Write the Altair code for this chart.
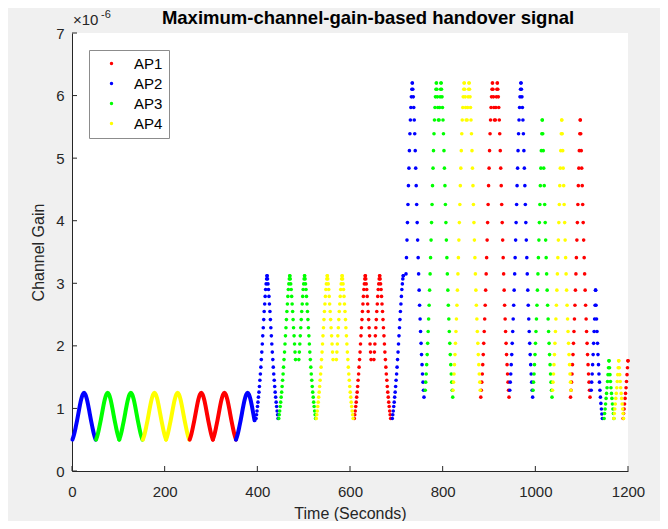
import altair as alt
import pandas as pd

FONT = "Liberation Sans"
AP_NAMES = ["AP1", "AP2", "AP3", "AP4"]
AP_COLORS = ["#ff0000", "#0000ff", "#00ff00", "#ffff00"]

X_TICKS = [0, 200, 400, 600, 800, 1000, 1200]
Y_TICKS = [0, 1, 2, 3, 4, 5, 6, 7]

TITLE = "Maximum-channel-gain-based handover signal"
X_TITLE = "Time (Seconds)"
Y_TITLE = "Channel Gain"
EXP_BASE = "×10"
EXP_POWER = "-6"

# ---- Segment 1 (0-395 s): densely sampled, appears as a solid curve ----
S1_PEAK_T = [26, 77, 127, 178, 228, 279, 329, 379]
S1_AP = ["AP2", "AP3", "AP3", "AP4", "AP4", "AP1", "AP1", "AP2"]
S1_DT = [0, 3, 6, 9, 12, 15, 18, 21, 25]          # seconds from a peak
S1_G = [1.25, 1.22, 1.15, 1.05, 0.93, 0.81, 0.70, 0.60, 0.50]
S1_TOP = [0, 0, 0, 0, 0, 0, 0, 0]
S1_LEFT_N = [9, 9, 9, 9, 9, 9, 9, 9]
S1_RIGHT_N = [9, 9, 9, 9, 9, 9, 9, 6]

# ---- Segment 2 (395-720 s): samples about 1 s apart ----
S2_G = [3.12, 3.07, 2.99, 2.90, 2.79, 2.67, 2.55, 2.42, 2.29, 2.16, 2.03, 1.90,
        1.78, 1.66, 1.55, 1.45, 1.35, 1.26, 1.18, 1.10, 1.03, 0.96, 0.90, 0.84]
S2_DT = [0, 1.0, 2.0, 3.1, 4.1, 5.1, 6.2, 7.2, 8.2, 9.3, 10.3, 11.3,
         12.4, 13.4, 14.4, 15.5, 16.5, 17.5, 18.6, 19.6, 20.6, 21.7, 22.7, 23.7]
S2_PEAK_T = [421, 470, 502, 551, 583, 633, 664, 715]
S2_AP = ["AP2", "AP3", "AP3", "AP4", "AP4", "AP1", "AP1", "AP2"]
S2_TOP = [0, 0, 0, 0, 0, 0, 0, 0]
S2_LEFT_N = [24, 24, 13, 24, 13, 24, 13, 24]
S2_RIGHT_N = [24, 13, 24, 13, 24, 13, 24, 1]

# ---- Segment 3 (720-1150 s) ----
S3_G = [6.20, 6.10, 5.98, 5.81, 5.61, 5.39, 5.12, 4.84, 4.56, 4.26, 3.97, 3.69,
        3.41, 3.15, 2.89, 2.65, 2.43, 2.23, 2.04, 1.86, 1.70, 1.55, 1.42, 1.29,
        1.18, 1.08, 0.99, 0.91, 0.84]
S3_DT = [0, 1.0, 2.1, 3.1, 4.2, 5.2, 6.3, 7.3, 8.4, 9.4, 10.5, 11.5,
         12.6, 13.6, 14.7, 15.7, 16.8, 17.8, 18.9, 19.9, 21.0, 22.0, 23.1, 24.1,
         25.2, 26.2, 27.3, 28.3, 29.4]
S3_PEAK_T = [734.5, 786.5, 796.5, 846.5, 857, 907.5, 918, 969, 1015, 1057, 1097, 1130]
S3_AP = ["AP2", "AP3", "AP3", "AP4", "AP4", "AP1", "AP1", "AP2", "AP3", "AP4", "AP1", "AP2"]
S3_TOP = [0, 0, 0, 0, 0, 0, 0, 0, 4, 4, 4, 14]
S3_LEFT_N = [14, 24, 5, 24, 5, 25, 5, 24, 24, 24, 25, 24]
S3_RIGHT_N = [25, 5, 25, 5, 24, 5, 25, 25, 25, 24, 25, 29]

# ---- Segment 4 (1148-1200 s) ----
S4_G = [1.76, 1.65, 1.54, 1.43, 1.33, 1.24, 1.16, 1.07, 0.99, 0.92, 0.84]
S4_DT = [0, 1.1, 2.1, 3.2, 4.2, 5.3, 6.3, 7.4, 8.4, 9.5, 10.5]
S4_PEAK_T = [1159, 1180, 1200]
S4_AP = ["AP3", "AP4", "AP1"]
S4_TOP = [0, 0, 0]
S4_LEFT_N = [11, 11, 11]
S4_RIGHT_N = [11, 11, 1]


def build(seg, peaks, aps, dts, gs, tops, left_n, right_n):
    rows = []
    for i in range(len(peaks)):
        p, ap, top = peaks[i], aps[i], tops[i]
        for k in range(top, left_n[i]):
            rows.append({"arc": f"{seg}-{i}", "t": p - (dts[k] - dts[top]), "g": gs[k], "ap": ap})
        for k in range(top, right_n[i]):
            rows.append({"arc": f"{seg}-{i}", "t": p + (dts[k] - dts[top]), "g": gs[k], "ap": ap})
    return rows


curve = pd.DataFrame(build("s1", S1_PEAK_T, S1_AP, S1_DT, S1_G, S1_TOP, S1_LEFT_N, S1_RIGHT_N))
curve = curve.drop_duplicates().sort_values(["arc", "t"])
dots = pd.DataFrame(
    build("s2", S2_PEAK_T, S2_AP, S2_DT, S2_G, S2_TOP, S2_LEFT_N, S2_RIGHT_N)
    + build("s3", S3_PEAK_T, S3_AP, S3_DT, S3_G, S3_TOP, S3_LEFT_N, S3_RIGHT_N)
    + build("s4", S4_PEAK_T, S4_AP, S4_DT, S4_G, S4_TOP, S4_LEFT_N, S4_RIGHT_N)
)
dots["order"] = dots["ap"].map({n: i for i, n in enumerate(AP_NAMES)})
dots = dots.sort_values("order", kind="stable")

AX = "#262626"
x_enc = alt.X(
    "t:Q",
    title=X_TITLE,
    scale=alt.Scale(domain=[0, 1200], nice=False, zero=False),
    axis=alt.Axis(values=X_TICKS, format="d", grid=False, tickSize=0, labelPadding=13,
                  titlePadding=6, domainColor=AX, labelColor=AX, titleColor=AX,
                  labelFontSize=15, titleFontSize=16, labelFont=FONT, titleFont=FONT,
                  titleFontWeight="normal", labelFlush=False),
)
y_enc = alt.Y(
    "g:Q",
    title=Y_TITLE,
    scale=alt.Scale(domain=[0, 7], nice=False, zero=False),
    axis=alt.Axis(values=Y_TICKS, format="d", grid=False, tickSize=0, labelPadding=8,
                  titlePadding=9, domainColor=AX, labelColor=AX, titleColor=AX,
                  labelFontSize=15, titleFontSize=16, labelFont=FONT, titleFont=FONT,
                  titleFontWeight="normal", labelFlush=False),
)
color_scale = alt.Scale(domain=AP_NAMES, range=AP_COLORS)

line_layer = alt.Chart(curve).mark_line(strokeWidth=4, interpolate="monotone", strokeCap="round").encode(
    x=x_enc, y=y_enc, detail="arc:N",
    color=alt.Color("ap:N", scale=color_scale, legend=None),
)

dot_layer = alt.Chart(dots).mark_circle(size=13, opacity=1).encode(
    x=x_enc, y=y_enc,
    color=alt.Color("ap:N", scale=color_scale, title=None,
                    legend=alt.Legend(orient="none", legendX=17, legendY=17, padding=6,
                                      strokeColor="#8c8c8c", fillColor="white",
                                      symbolType="circle", symbolSize=12, symbolOffset=9,
                                      labelOffset=15, rowPadding=4, labelFontSize=15,
                                      labelFont=FONT, labelColor="black")),
    order=alt.Order("order:Q"),
)

xtick_layer = alt.Chart(pd.DataFrame({"t": X_TICKS})).mark_rule(color=AX, strokeWidth=1).encode(
    x=x_enc, y=alt.value(438), y2=alt.value(433)
)
ytick_layer = alt.Chart(pd.DataFrame({"g": Y_TICKS})).mark_rule(color=AX, strokeWidth=1).encode(
    y=y_enc, x=alt.value(0), x2=alt.value(5)
)

exp_df = pd.DataFrame({"t": [0], "g": [7], "base": [EXP_BASE], "power": [EXP_POWER]})
exp_base = alt.Chart(exp_df).mark_text(align="left", baseline="alphabetic", dx=1, dy=-8,
                                       fontSize=15, font=FONT, color=AX).encode(
    x=x_enc, y=y_enc, text="base:N")
exp_pow = alt.Chart(exp_df).mark_text(align="left", baseline="alphabetic", dx=29, dy=-15,
                                      fontSize=11, font=FONT, color=AX).encode(
    x=x_enc, y=y_enc, text="power:N")

title_df = pd.DataFrame({"t": [600], "g": [7], "label": [TITLE]})
title_layer = alt.Chart(title_df).mark_text(align="center", baseline="alphabetic", dx=18, dy=-9,
                                            fontSize=18.5, font=FONT, fontWeight="bold",
                                            color="black").encode(
    x=x_enc, y=y_enc, text="label:N")

chart = alt.layer(line_layer, dot_layer, xtick_layer, ytick_layer, exp_base, exp_pow,
                  title_layer).resolve_scale(color="independent").resolve_legend(
    color="independent").properties(
    width=556, height=438,
    autosize=alt.AutoSizeParams(type="none"),
    padding={"left": 64, "top": 25, "right": 32, "bottom": 50},
).configure(background="#f0f0f0").configure_view(stroke=None, fill="white")

chart.save("out.html", embed_options={"renderer": "svg", "actions": False})
